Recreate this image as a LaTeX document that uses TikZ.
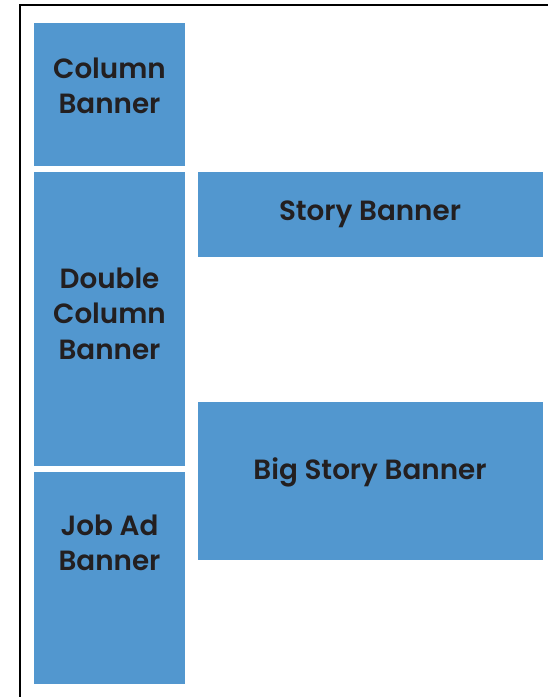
\documentclass[tikz,border=0pt]{standalone}
\usepackage{fontspec}
\setmainfont{Poppins}[BoldFont=Poppins SemiBold]
\definecolor{bannerblue}{RGB}{82,151,207}
\definecolor{inkdark}{RGB}{35,31,32}
\begin{document}
\begin{tikzpicture}[x=1pt,y=1pt,
  banner/.style={fill=bannerblue, draw=none, inner sep=0pt, outer sep=0pt},
  lbl/.style={text=inkdark, font=\fontsize{27.8}{35.5}\selectfont\bfseries, align=center, inner sep=0pt}]
\useasboundingbox (0,0) rectangle (548,697);
% frame
\coordinate (fb) at (20,0);
\coordinate (fc) at (20,692);
\coordinate (fr) at (548,692);
\draw[line width=1.3pt, black] (fb) -- (fc) -- (fr);
% boxes (y measured from bottom: 697 - y)
\path[banner] (34,697-166.5) rectangle (184.5,697-23) node[pos=0.5] (colbox) {};
\path[banner] (34,697-466) rectangle (184.5,697-172) node[pos=0.5] (dblbox) {};
\path[banner] (34,697-684) rectangle (184.5,697-472) node[pos=0.5] (jobbox) {};
\path[banner] (198,697-257) rectangle (542.5,697-172.5) node[pos=0.5] (storybox) {};
\path[banner] (198,697-560.5) rectangle (542.5,697-402.5) node[pos=0.5] (bigbox) {};
% labels
\node[lbl] (coltext) at (109.5,697-86) {Column\\Banner};
\node[lbl] (dbltext) at (109.5,697-313.5) {Double\\Column\\Banner};
\node[lbl] (jobtext) at (109.5,697-543) {Job Ad\\Banner};
\node[lbl] (storytext) at (370,697-214) {Story Banner};
\node[lbl] (bigtext) at (370,697-472) {Big Story Banner};
\end{tikzpicture}
\end{document}
